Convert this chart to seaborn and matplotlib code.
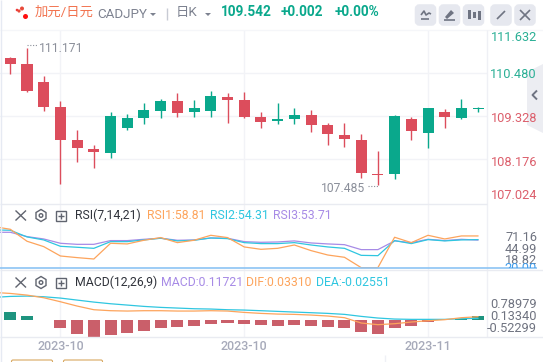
import matplotlib
matplotlib.use("Agg")
import matplotlib.pyplot as plt
from matplotlib.patches import FancyBboxPatch, Rectangle, Polygon
import numpy as np
import pandas as pd
import seaborn as sns

# ---------- data ----------
candle_index = list(range(29))
body_top = [110.891,110.730,110.248,109.578,108.694,108.453,109.337,109.283,109.498,109.739,109.739,109.551,109.873,109.846,109.766,109.310,109.257,109.364,109.364,109.096,108.828,108.694,107.783,109.337,109.257,109.551,109.444,109.551,109.542]
body_bottom = [110.739,110.016,109.587,108.703,108.489,108.381,108.355,109.024,109.292,109.480,109.426,109.453,109.480,109.775,109.319,109.185,109.212,109.265,109.105,108.864,108.730,107.819,107.765,107.792,108.944,108.890,109.319,109.292,109.524]
highs = [110.926,111.171,110.409,109.739,108.962,108.560,109.444,109.391,109.685,109.792,109.953,109.766,110.007,109.953,109.980,109.444,109.685,109.551,109.498,109.149,109.149,108.855,108.399,109.364,109.310,109.551,109.524,109.792,109.587]
lows = [110.471,109.980,109.480,107.524,108.105,107.953,108.221,108.971,109.132,109.292,109.319,109.319,109.319,109.158,109.292,109.024,109.132,109.132,108.917,108.569,108.515,107.685,107.485,107.658,108.703,108.489,109.024,109.265,109.453]
rising = ["d","d","d","d","d","d","u","u","u","u","d","u","u","d","d","d","u","u","d","d","d","d","d","u","d","u","d","u","u"]

line_index = list(range(-1, 29))
rsi1 = [70.3,67.0,52.3,45.7,34.2,32.2,30.5,49.8,49.0,53.5,56.8,50.6,53.5,59.6,56.8,45.3,42.4,43.6,47.7,40.8,35.4,32.6,19.9,19.9,57.2,50.6,59.6,55.1,58.8,58.8]
rsi2 = [66.2,65.8,57.6,53.9,46.1,44.9,43.6,51.8,51.8,53.9,56.0,52.7,53.5,56.3,55.5,50.6,49.4,49.4,50.6,47.7,45.3,43.6,35.0,34.6,53.1,49.4,54.3,52.7,53.9,54.3]
rsi3 = [63.3,63.3,58.0,55.1,49.8,48.5,48.5,53.1,53.1,54.7,56.0,53.5,53.9,56.3,56.0,51.8,51.0,51.4,52.7,50.2,49.0,48.1,42.0,42.0,52.7,50.6,54.7,53.1,54.7,53.7]

dif = [.814,.784,.735,.657,.539,.412,.304,.275,.265,.275,.275,.265,.265,.275,.265,.225,.196,.176,.167,.147,.118,.069,-.088,-.137,-.108,-.059,-.02,.01,.069,.098]
dea = [.667,.696,.706,.686,.647,.588,.529,.480,.441,.402,.373,.353,.333,.324,.304,.294,.275,.255,.235,.216,.196,.167,.108,.059,.029,.02,.02,.02,.039,.049]
hist = [.235,.118,-.01,-.235,-.41,-.5,-.44,-.38,-.32,-.235,-.206,-.176,-.118,-.088,-.118,-.147,-.176,-.147,-.176,-.206,-.235,-.353,-.41,-.235,-.176,-.059,.012,.02,.117]

price_ticks = ["111.632","110.480","109.328","108.176","107.024"]
price_grid = [110.480,109.328,108.176]
month_ticks = [3,14,25]
month_labels = ["2023-10","2023-10","2023-11"]

# ---------- style ----------
sns.set_theme(style="white")
FONT = ["Roboto","Noto Sans CJK SC","DejaVu Sans"]
plt.rcParams["font.family"] = FONT
UP, DOWN = "#0aa88c", "#dc4d5c"
ORANGE, CYAN, PURPLE = "#fda45c", "#2fc6e0", "#a78be6"
GRID = "#f2f3f7"
W, H = 543, 362
XLIM = (-0.616, 28.53)

fig = plt.figure(figsize=(W/100, H/100), dpi=100, facecolor="white")
def make_ax(top, bottom):
    ax = fig.add_axes([0, 1-bottom/H, 487/W, (bottom-top)/H])
    ax.set_xlim(*XLIM)
    for s in ax.spines.values():
        s.set_visible(False)
    ax.set_xticks([]); ax.set_yticks([])
    ax.set_xlabel(""); ax.set_ylabel("")
    ax.patch.set_alpha(0)
    return ax

def vgrid(ax):
    for m in month_ticks:
        ax.axvline(m, color=GRID, lw=1, zorder=0)

# ---------- candles ----------
ax = make_ax(29.5, 204)
vgrid(ax)
for p in price_grid:
    ax.axhline(p, color=GRID, lw=1, zorder=0)
colors = [UP if r == "u" else DOWN for r in rising]
ax.vlines(candle_index, lows, highs, colors=colors, lw=1.0, zorder=2)
ax.bar(candle_index, np.array(body_top)-np.array(body_bottom), bottom=body_bottom,
       width=0.66, color=colors, zorder=3, linewidth=0)
ax.set_ylim(106.98, 111.654)

# ---------- RSI ----------
ax2 = make_ax(204.5, 270)
vgrid(ax2)
df = pd.DataFrame(dict(i=line_index, r1=rsi1, r2=rsi2, r3=rsi3, dif=dif, dea=dea))
for col, c in (("r3", PURPLE), ("r2", CYAN), ("r1", ORANGE)):
    sns.lineplot(data=df, x="i", y=col, color=c, lw=0.9, ax=ax2, zorder=3, errorbar=None)
ax2.set_xlim(*XLIM); ax2.set_ylim(17.0, 97.4)
ax2.set_xlabel(""); ax2.set_ylabel(""); ax2.set_xticks([]); ax2.set_yticks([])

# ---------- MACD ----------
ax3 = make_ax(270.5, 337)
vgrid(ax3)
hdf = pd.DataFrame(dict(i=candle_index, h=hist, s=["u" if v > 0 else "d" for v in hist]))
sns.barplot(data=hdf, x="i", y="h", hue="s", palette={"u": UP, "d": DOWN}, dodge=False,
            native_scale=True, width=0.72, legend=False, ax=ax3, zorder=2, linewidth=0, errorbar=None)
sns.lineplot(data=df, x="i", y="dea", color=CYAN, lw=0.9, ax=ax3, zorder=3, errorbar=None)
sns.lineplot(data=df, x="i", y="dif", color=ORANGE, lw=0.9, ax=ax3, zorder=4, errorbar=None)
ax3.set_xlim(*XLIM); ax3.set_ylim(-0.5, 1.46)
ax3.set_xlabel(""); ax3.set_ylabel(""); ax3.set_xticks([]); ax3.set_yticks([])

# ---------- overlay in pixels ----------
ov = fig.add_axes([0, 0, 1, 1], zorder=10)
ov.set_xlim(0, W); ov.set_ylim(H, 0); ov.axis("off"); ov.patch.set_alpha(0)

def T(x, y, s, c, size=8.6, ha="left", **k):
    return ov.text(x, y, s, color=c, fontsize=size, ha=ha, va="center", **k)
def L(xs, ys, c, lw=1.0, **k):
    ov.plot(xs, ys, color=c, lw=lw, solid_capstyle="butt", **k)

# frame lines
L([0, W], [29.5, 29.5], "#f5f6f9", 1)
L([487, 487], [29.5, 337], "#eff0f5", 1)
L([0, 487], [204.3, 204.3], "#e9ebf1", 1)
L([0, W], [270.3, 270.3], "#e9ebf1", 1)
L([0, W], [337, 337], "#e9ebf1", 1)
L([0.5, 0.5], [0, H], "#e6eaf3", 1)
L([0, 537], [267.7, 267.7], "#8cc4f4", 1.2)
L([385, 385], [355, H], "#eff0f5", 1)

# header
for (x, y, r, c) in [(17, 10, 1.3, "#ee3a3a"), (22, 8.5, 2.0, "#e84a3a"), (19, 11, 1.6, "#e84a3a"),
                     (25.5, 16.5, 2.5, "#ff1010")]:
    ov.add_patch(plt.Circle((x, y), r, color=c, lw=0))
T(35, 12.5, "加元/日元", "#f2734f", 9.6)
T(97, 14, "CADJPY", "#7d8290", 9.6)
ov.add_patch(Polygon([(150, 13), (156, 13), (153, 16)], color="#7d8290", lw=0))
L([166.5, 166.5], [8, 20], "#c8cbd4", 1)
T(176, 12.5, "日K", "#7d8290", 9.6)
ov.add_patch(Polygon([(205, 13), (211, 13), (208, 16)], color="#7d8290", lw=0))
T(221, 12.5, "109.542", UP, 9.8, fontweight="bold")
T(281, 12.5, "+0.002", UP, 9.8, fontweight="bold")
T(335, 12.5, "+0.00%", UP, 9.8, fontweight="bold")
for x0 in (415.5, 439.5, 463.5, 491, 515):
    ov.add_patch(FancyBboxPatch((x0+2, 7), 16, 16, boxstyle="round,pad=0,rounding_size=2",
                                mutation_aspect=1, fc="#e6e8ef", ec="#e6e8ef", lw=4))
L([421, 429], [19, 19], "#6f7482", 1.2)
L([421, 424, 426, 429, 431], [15, 11, 15, 13, 14], "#6f7482", 1.2)
ov.add_patch(Polygon([(445, 17), (451, 10), (454, 13), (447, 19)], color="#6f7482", lw=0))
L([444, 455], [20, 20], "#6f7482", 1.2)
for x, y0, y1 in ((469, 10, 19), (474, 12, 18), (479, 11, 20)):
    ov.add_patch(Rectangle((x-1.5, y0), 3, y1-y0, color="#6f7482", lw=0))
L([497, 505], [19, 11], "#6f7482", 1.2)
L([520, 530], [10, 20], "#6f7482", 1.2)
L([530, 520], [10, 20], "#6f7482", 1.2)

# side tab
ov.add_patch(Polygon([(527, 72), (543, 64), (543, 133), (527, 125)], color="#ecedf2", lw=0))
L([537, 532.5, 537], [90.5, 95, 99.5], "#6f7482", 1.4)

# price labels
for (s, y, c) in zip(price_ticks, [37.5, 75, 119, 162, 195.5], ["#2aaf95", "#2aaf95", "#dc5f6c", "#dc5f6c", "#dc5f6c"]):
    T(537, y, s, c, 9.2, ha="right")

# extreme labels
T(39, 48.5, "111.171", "#8b8f9a", 8.7)
L([27, 38], [45, 45], "#8b8f9a", 0.8, ls=(0, (1, 1.5)))
T(365, 188.5, "107.485", "#8b8f9a", 8.7, ha="right")
L([368, 378], [186, 186], "#8b8f9a", 0.8, ls=(0, (1, 1.5)))

# indicator legends
for y, name, items in ((215.5, "RSI(7,14,21)", [(147, "RSI1:58.81", ORANGE), (210, "RSI2:54.31", CYAN), (273.5, "RSI3:53.71", PURPLE)]),
                       (282.5, "MACD(12,26,9)", [(161.5, "MACD:0.11721", PURPLE), (246, "DIF:0.03310", ORANGE), (316, "DEA:-0.02551", CYAN)])):
    L([15.5, 26], [y-5, y+5], "#60646f", 1)
    L([26, 15.5], [y-5, y+5], "#60646f", 1)
    ov.add_patch(Polygon([(41, y-6), (46, y-3), (46, y+3), (41, y+6), (36, y+3), (36, y-3)],
                         fc="none", ec="#60646f", lw=1))
    ov.add_patch(plt.Circle((41, y), 1.8, fc="none", ec="#60646f", lw=1))
    ov.add_patch(Rectangle((55.5, y-5), 10.5, 10.5, fc="none", ec="#60646f", lw=1))
    L([57.5, 64], [y+.2, y+.2], "#60646f", 1)
    L([60.7, 60.7], [y-3, y+3.5], "#60646f", 1)
    T(75, y, name, "#30333b", 8.8)
    for x, s, c in items:
        T(x, y, s, c, 8.8)

# RSI labels, the last one clipped at the pane edge
clip = Rectangle((0, 204.5), W, 63.0, transform=ov.transData)
for y, s, c in ((237.5, "71.16", "#6f7380"), (249.5, "44.99", "#6f7380"), (261, "18.82", "#6f7380"), (268, "20.00", "#3f9bea")):
    t = T(537, y, s, c, 9.2, ha="right")
    t.set_clip_path(clip)
    t.set_clip_on(True)

for y, s in ((304.5, "0.78979"), (316.5, "0.13340"), (328.5, "-0.52299")):
    T(537, y, s, "#6f7380", 9.2, ha="right")

# month labels
for m, s in zip(month_ticks, month_labels):
    x = (m - XLIM[0]) / (XLIM[1] - XLIM[0]) * 487
    T(x, 346.5, s, "#a7aaba", 9.0, ha="center", fontweight="medium")

# bottom boxes
for x0, x1 in ((11.5, 52.5), (63.5, 102.5)):
    ov.add_patch(FancyBboxPatch((x0, 360), x1-x0, 6, boxstyle="round,pad=0,rounding_size=1.5",
                                fc="white", ec="#d8a860", lw=0.8))

fig.savefig("out.png", dpi=100)
